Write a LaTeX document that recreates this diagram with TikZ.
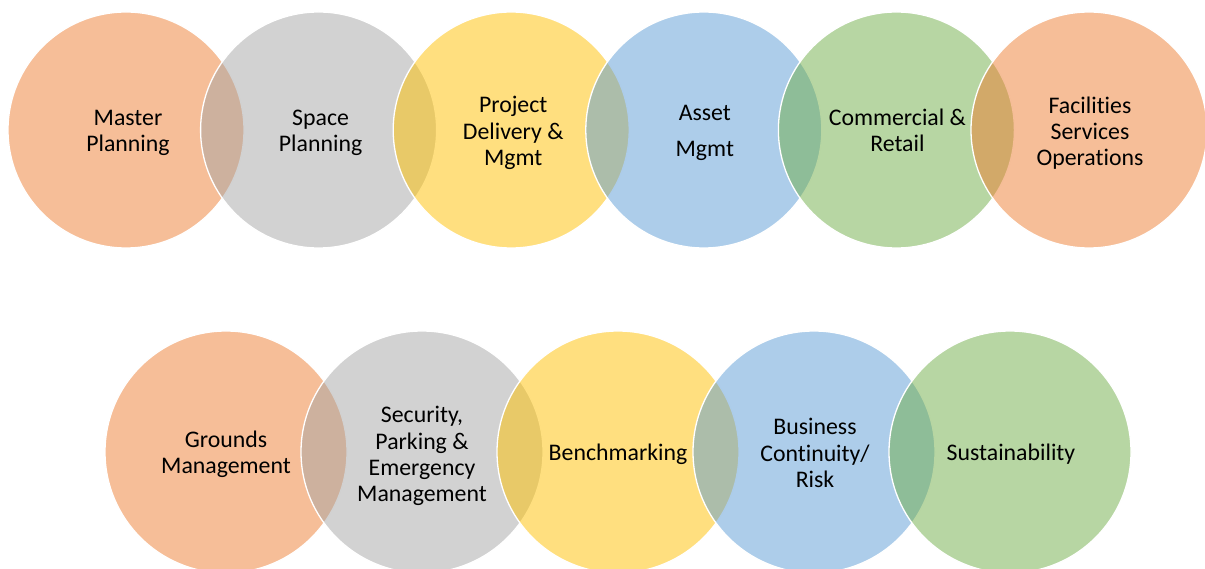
\documentclass[tikz,border=0pt]{standalone}
\usepackage{fontspec}
\setmainfont[Ligatures=NoCommon]{Carlito}
\definecolor{cOrange}{HTML}{ED7D31}
\definecolor{cGray}{HTML}{A5A5A5}
\definecolor{cYellow}{HTML}{FFC000}
\definecolor{cBlue}{HTML}{5B9BD5}
\definecolor{cGreen}{HTML}{70AD47}
\tikzset{
  disc/.style={circle, inner sep=0pt, minimum size=#1, fill opacity=0.5, draw=white, draw opacity=1, line width=1.3pt},
  lbl/.style={align=center, inner sep=0pt, text=black, font=\fontsize{23.8}{26.2}\selectfont}
}
\begin{document}
\begin{tikzpicture}[x=1pt,y=-1pt]
\useasboundingbox (0,0) rectangle (1205,569);
% top row
\node[disc=236pt, fill=cOrange] (t1) at (126,130) {};
\node[disc=236pt, fill=cGray]   (t2) at (318.6,130) {};
\node[disc=236pt, fill=cYellow] (t3) at (511.2,130) {};
\node[disc=236pt, fill=cBlue]   (t4) at (703.8,130) {};
\node[disc=236pt, fill=cGreen]  (t5) at (896.4,130) {};
\node[disc=236pt, fill=cOrange] (t6) at (1089,130) {};
% bottom row
\node[disc=242pt, fill=cOrange] (b1) at (226,452) {};
\node[disc=242pt, fill=cGray]   (b2) at (422,452) {};
\node[disc=242pt, fill=cYellow] (b3) at (618,452) {};
\node[disc=242pt, fill=cBlue]   (b4) at (814,452) {};
\node[disc=242pt, fill=cGreen]  (b5) at (1010,452) {};
% labels
\node[lbl] (l1) at ([xshift=2pt,yshift=-3pt]t1.center) {Master\\Planning};
\node[lbl] (l2) at ([xshift=2pt,yshift=-3pt]t2.center) {Space\\Planning};
\node[lbl] (l3) at ([xshift=2pt,yshift=-3pt]t3.center) {Project\\Delivery \&\\Mgmt};
\node[lbl] (l4) at ([xshift=1pt,yshift=-3pt]t4.center) {Asset\\[10pt]Mgmt};
\node[lbl] (l5) at ([xshift=1pt,yshift=0pt]t5.center) {Commercial \&\\Retail};
\node[lbl] (l6) at ([xshift=1pt,yshift=-3pt]t6.center) {Facilities\\Services\\Operations};
\node[lbl] (l7) at ([yshift=-2pt]b1.center) {Grounds\\Management};
\node[lbl] (l8) at ([yshift=-4pt]b2.center) {Security,\\Parking \&\\Emergency\\Management};
\node[lbl] (l9) at ([yshift=-2pt]b3.center) {Benchmarking};
\node[lbl] (l10) at ([xshift=1pt,yshift=-1pt]b4.center) {Business\\Continuity/\\Risk};
\node[lbl] (l11) at ([xshift=1pt,yshift=-2pt]b5.center) {Sustainability};
\end{tikzpicture}
\end{document}
